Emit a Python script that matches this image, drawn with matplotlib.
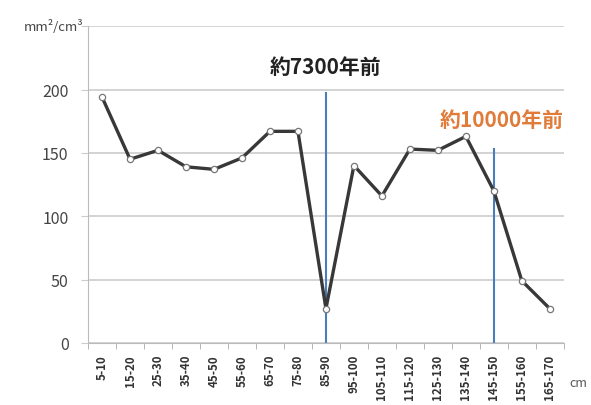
import matplotlib
matplotlib.use("Agg")
import matplotlib.pyplot as plt
import numpy as np

plt.rcParams['font.family'] = ['Noto Sans CJK JP', 'DejaVu Sans']

categories = ["5-10", "15-20", "25-30", "35-40", "45-50", "55-60", "65-70", "75-80",
              "85-90", "95-100", "105-110", "115-120", "125-130", "135-140",
              "145-150", "155-160", "165-170"]
values = [194, 145, 152, 139, 137, 146, 167, 167, 27, 140, 116, 153, 152, 163, 120, 49, 27]
yticks = [0, 50, 100, 150, 200, 250]
ytick_labels = ["0", "50", "100", "150", "200", ""]
unit_label = "mm²/cm³"
events = ["約7300年前", "約10000年前"]
event_idx = [8, 14]
event_top = [197, 153]

fig = plt.figure(figsize=(5.91, 4.06), dpi=100)
ax = fig.add_axes([0.149, 0.153, 0.805, 0.780])

x = np.arange(len(categories))
ax.plot(x, values, color='#383838', lw=2.4, marker='o', ms=4.5,
        mfc='white', mec='#777777', mew=0.9, zorder=3)

ax.set_xlim(-0.5, len(categories) - 0.5)
ax.set_ylim(0, 250)
ax.set_yticks(yticks)
ax.set_yticklabels(ytick_labels)
ax.yaxis.grid(True, color='#cccccc', lw=1.2)
ax.set_axisbelow(True)

ax.set_xticks(x)
ax.set_xticklabels(categories, rotation=90, fontsize=8.3, fontweight='bold', color='#333333')
ax.set_xticks(np.arange(-0.5, len(categories) + 0.5, 1), minor=True)
ax.tick_params(axis='x', which='major', length=0, pad=8)
ax.tick_params(axis='x', which='minor', length=4, color='#aaaaaa')
ax.tick_params(axis='y', length=5, color='#cccccc', labelsize=11.5, labelcolor='#444444', pad=9)

for s in ['top', 'right']:
    ax.spines[s].set_visible(False)
ax.spines['left'].set_color('#bbbbbb')
ax.spines['bottom'].set_color('#bbbbbb')

for i, top in zip(event_idx, event_top):
    ax.plot([i, i], [0, top], color='#4a7ebb', lw=1.5, zorder=2)

ax.text(event_idx[0], 218, events[0], ha='center', va='center', fontsize=15,
        fontweight='bold', color='#222222')
ax.text(event_idx[1] + 0.29, 176, events[1], ha='center', va='center', fontsize=15,
        fontweight='bold', color='#e07b39')

fig.text(83 / 591, 1 - 27 / 406, unit_label, ha='right', va='center', fontsize=9.5, color='#444444')
fig.text(578 / 591, 1 - 384 / 406, "cm", ha='center', va='center', fontsize=9, color='#555555')

fig.savefig("out.png", dpi=100)
